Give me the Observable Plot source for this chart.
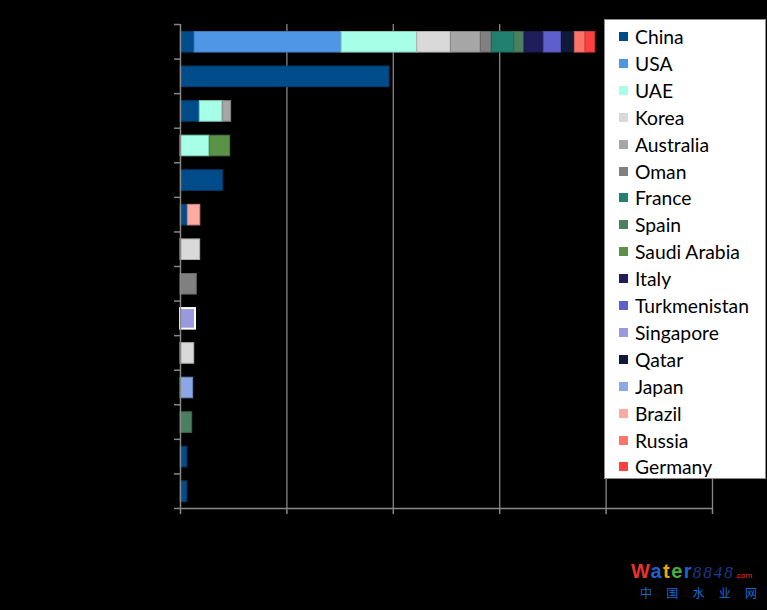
<!DOCTYPE html>
<html><head><meta charset="utf-8">
<script src="https://cdn.jsdelivr.net/npm/d3@7"></script>
<script src="https://cdn.jsdelivr.net/npm/@observablehq/plot@0.6"></script>
<style>
html,body{margin:0;padding:0;background:#000;}
#wrap{position:relative;width:767px;height:610px;overflow:hidden;background:#000;}
#legend{position:absolute;left:604px;top:19px;width:162px;height:460px;background:#fff;border:1px solid #8c8c8c;box-sizing:border-box;font-family:Lato,"Open Sans",sans-serif;}
.item{position:absolute;left:0;height:27px;display:flex;align-items:center;font-size:19.3px;color:#000;white-space:nowrap;}
.sw{width:9px;height:9px;margin-left:14px;margin-right:7px;flex:none;}
#wm{position:absolute;left:631px;top:561px;line-height:1;}
#wm .w1{font-family:"Liberation Sans",Arial,sans-serif;font-weight:bold;font-size:20px;letter-spacing:1.4px;white-space:nowrap;}
#wm .n{font-family:"Liberation Serif",serif;font-style:italic;font-weight:normal;font-size:17px;letter-spacing:2px;color:#1a3c8f;}
#wm .com{font-size:8px;letter-spacing:0;font-weight:normal;color:#e8332b;}
#wm .cn{display:flex;justify-content:space-between;width:117px;font-family:"Noto Sans CJK SC",sans-serif;font-size:12px;color:#1769d6;margin-top:6px;margin-left:9px;white-space:nowrap;}
</style>
</head><body>
<div id="wrap"></div>
<script>
// Legend / series
const countries = ["China","USA","UAE","Korea","Australia","Oman","France","Spain","Saudi Arabia","Italy","Turkmenistan","Singapore","Qatar","Japan","Brazil","Russia","Germany"];
const colors = ["#004c8a","#4f97e6","#a6ffe6","#d9d9d9","#a6a6a6","#808080","#218070","#4a8060","#5a9248","#1e1e5a","#5e5ecc","#9999e0","#0f1a38","#8aa8e8","#ffaaa0","#ff7468","#ff4040"];
// Rows (top to bottom); labels are not shown in the reference
const rowRanks = [1,2,3,4,5,6,7,8,9,10,11,12,13,14];
// Stacked segments per row: [country, value]
const rowSegments = [
  [["China",13.2],["USA",138.2],["UAE",71.1],["Korea",31.6],["Australia",28.2],["Oman",10.3],["France",21.1],["Spain",9.7],["Italy",18.1],["Turkmenistan",16.9],["Qatar",12.2],["Russia",10.1],["Germany",9.1]],
  [["China",196.4]],
  [["China",18.1],["UAE",21.6],["Australia",7.9]],
  [["UAE",27.5],["Saudi Arabia",19.2]],
  [["China",40.1]],
  [["China",6.9],["Brazil",11.7]],
  [["Korea",18.5]],
  [["Oman",15.3]],
  [["Singapore",14.1]],
  [["Korea",12.9]],
  [["Japan",11.9]],
  [["Spain",11.0]],
  [["China",6.3]],
  [["China",6.3]]
];
const xTicks = [0,100,200,300,400,500];
const watermarkCn = ["中","国","水","业","网"];

const colorOf = Object.fromEntries(countries.map((c, i) => [c, colors[i]]));
const data = rowSegments.flatMap((segs, i) => segs.map(([country, value]) => ({row: i, rank: rowRanks[i], country, value})));
const axisGray = "#878787";

const chart = Plot.plot({
  width: 767, height: 610,
  marginLeft: 180, marginRight: 55, marginTop: 24, marginBottom: 102,
  style: {background: "#000", color: axisGray},
  x: {domain: [0, 500], axis: null},
  y: {domain: [0, rowRanks.length], reverse: true, axis: null},
  marks: [
    Plot.gridX(xTicks.slice(1), {stroke: axisGray, strokeOpacity: 1, strokeWidth: 1.3}),
    Plot.rect(data, Plot.stackX({
      y1: "row", y2: d => d.row + 1, x: "value",
      fill: d => colorOf[d.country],
      stroke: d => d.country === "Singapore" ? "#ffffff" : d3.color(colorOf[d.country]).darker(0.6).formatHex(),
      strokeWidth: d => d.country === "Singapore" ? 2 : 1,
      insetTop: 7.5, insetBottom: 6.5
    })),
    Plot.ruleX([0], {stroke: axisGray, strokeWidth: 1.5}),
    Plot.ruleY([rowRanks.length], {stroke: axisGray, strokeWidth: 1.5}),
    Plot.axisY(d3.range(rowRanks.length + 1), {tickSize: 6, tickFormat: () => "", color: axisGray, strokeWidth: 1.5, label: null}),
    Plot.axisX(xTicks, {tickSize: 6, tickFormat: () => "", color: axisGray, strokeWidth: 1.5, label: null})
  ]
});
const wrap = document.getElementById("wrap");
wrap.appendChild(chart);

// Legend overlay
const legend = document.createElement("div");
legend.id = "legend";
countries.forEach((c, i) => {
  const it = document.createElement("div");
  it.className = "item";
  it.style.top = (3 + 26.9 * i) + "px";
  const sw = document.createElement("span");
  sw.className = "sw";
  sw.style.background = colors[i];
  const tx = document.createElement("span");
  tx.textContent = c;
  it.appendChild(sw); it.appendChild(tx);
  legend.appendChild(it);
});
wrap.appendChild(legend);

// Watermark
const wm = document.createElement("div");
wm.id = "wm";
wm.innerHTML = '<div class="w1"><span style="color:#e8332b">W</span><span style="color:#1f5fd0">a</span><span style="color:#f0a800">t</span><span style="color:#4cae3a">e</span><span style="color:#1f5fd0">r</span><span class="n">8848</span><span class="com">.com</span></div><div class="cn">' + watermarkCn.map(c => "<span>" + c + "</span>").join("") + '</div>';
wrap.appendChild(wm);
</script>
</body></html>
